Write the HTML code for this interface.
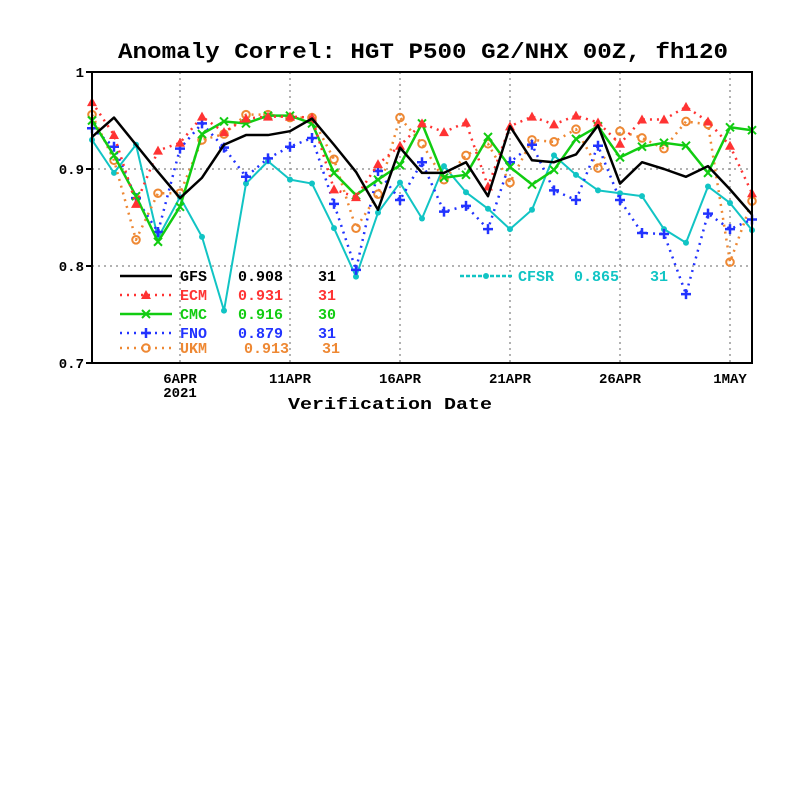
<!DOCTYPE html>
<html><head><meta charset="utf-8"><style>
body{margin:0;background:#fff;}
svg text{font-family:"Liberation Mono",monospace;font-weight:bold;}
</style></head><body>
<svg id="chart" width="800" height="800" viewBox="0 0 800 800" xmlns="http://www.w3.org/2000/svg">
<rect width="800" height="800" fill="#fff"/>
<text x="118" y="58" font-size="22" textLength="610" lengthAdjust="spacingAndGlyphs">Anomaly Correl: HGT P500 G2/NHX 00Z, fh120</text>
<g id="grid"></g>
<g id="series"></g>
<rect x="92" y="72" width="660" height="291" fill="none" stroke="#000" stroke-width="2"/>
<g id="axes"></g>
<g id="legend"></g>
<text x="288" y="409" font-size="17" textLength="204" lengthAdjust="spacingAndGlyphs">Verification Date</text>
</svg>
<script>
const yTicks=[0.7,0.8,0.9,1.0];
const yTickLabels=["0.7","0.8","0.9","1"];
const xTickDays=[4,9,14,19,24,29];
const xTickLabels=["6APR","11APR","16APR","21APR","26APR","1MAY"];
const gfs=[0.933,0.953,0.925,0.897,0.870,0.891,0.925,0.935,0.935,0.939,0.952,0.925,0.897,0.858,0.922,0.896,0.896,0.907,0.872,0.944,0.909,0.907,0.915,0.945,0.885,0.907,0.900,0.892,0.903,0.879,0.853];
const ecm=[0.969,0.935,0.864,0.919,0.927,0.954,0.938,0.952,0.954,0.954,0.953,0.879,0.871,0.905,0.924,0.947,0.938,0.948,0.882,0.944,0.954,0.946,0.955,0.948,0.926,0.951,0.951,0.964,0.949,0.924,0.875];
const cmc=[0.950,0.914,0.872,0.825,0.861,0.936,0.949,0.947,0.955,0.955,0.947,0.896,0.873,0.889,0.904,0.947,0.891,0.894,0.933,0.902,0.884,0.899,0.931,0.944,0.912,0.923,0.927,0.924,0.896,0.943,0.940];
const fno=[0.942,0.923,0.870,0.835,0.921,0.947,0.922,0.892,0.911,0.923,0.932,0.864,0.796,0.898,0.868,0.907,0.856,0.862,0.838,0.907,0.925,0.878,0.868,0.924,0.868,0.834,0.833,0.771,0.854,0.838,0.848];
const ukm=[0.956,0.909,0.827,0.875,0.875,0.930,0.936,0.956,0.956,0.953,0.953,0.910,0.839,0.874,0.953,0.926,0.889,0.914,0.926,0.886,0.930,0.928,0.941,0.901,0.939,0.932,0.921,0.949,0.946,0.804,0.867];
const cfsr=[0.930,0.896,0.925,0.829,0.871,0.830,0.754,0.885,0.908,0.889,0.885,0.839,0.789,0.855,0.886,0.849,0.903,0.876,0.859,0.838,0.858,0.914,0.894,0.878,0.875,0.872,0.838,0.824,0.882,0.865,0.837];
const legendNames=["GFS","ECM","CMC","FNO","UKM","CFSR"];
const legendScores=["0.908","0.931","0.916","0.879","0.913","0.865"];
const legendCounts=["31","31","30","31","31","31"];

const NS="http://www.w3.org/2000/svg";
const X0=92,X1=752,Y0=363,Y1=72;
function xs(i){return X0+(X1-X0)*i/30;}
function ys(v){return Y0-(v-0.7)/0.3*(Y0-Y1);}
function mk(tag,attrs,parent){const e=document.createElementNS(NS,tag);for(const k in attrs)e.setAttribute(k,attrs[k]);parent.appendChild(e);return e;}
const grid=document.getElementById('grid'),axes=document.getElementById('axes'),ser=document.getElementById('series'),leg=document.getElementById('legend');
yTicks.forEach((t,i)=>{
  if(t>0.7&&t<1){const l=mk('line',{x1:X0,x2:X1,y1:ys(t),y2:ys(t),stroke:'#999','stroke-dasharray':'2,4','stroke-width':1.5},grid);
  
  }
  const tk=mk('line',{x1:X0-6,x2:X0,y1:ys(t),y2:ys(t),stroke:'#000','stroke-width':2},axes);
  
  
  const tx=mk('text',{x:X0-8,y:ys(t)+5,'font-size':14,'text-anchor':'end'},axes);
  tx.textContent=yTickLabels[i];
  
  
});
xTickDays.forEach((d,i)=>{
  const x=xs(d);
  const l=mk('line',{x1:x,x2:x,y1:Y1,y2:Y0,stroke:'#999','stroke-dasharray':'2,4','stroke-width':1.5},grid);
  
  
  const tx=mk('text',{x:x,y:383,'font-size':14,'text-anchor':'middle'},axes);
  tx.textContent=xTickLabels[i];
  
  
});
const yr=mk('text',{x:xs(4),y:397,'font-size':14,'text-anchor':'middle'},axes);
yr.textContent="2021";



function marker(type,x,y,c,g){
  let e;
  if(type==='tri')e=mk('polygon',{points:`${x},${y-5} ${x-5},${y+4} ${x+5},${y+4}`,fill:c},g);
  else if(type==='x')e=mk('path',{d:`M${x-4},${y-4}L${x+4},${y+4}M${x-4},${y+4}L${x+4},${y-4}`,stroke:c,'stroke-width':2},g);
  else if(type==='plus')e=mk('path',{d:`M${x-5},${y}L${x+5},${y}M${x},${y-5}L${x},${y+5}`,stroke:c,'stroke-width':2.5},g);
  else if(type==='circ')e=mk('circle',{cx:x,cy:y,r:3.8,fill:'none',stroke:c,'stroke-width':2},g);
  else if(type==='dot')e=mk('circle',{cx:x,cy:y,r:3,fill:c},g);
  if(e){
  }
}
const defs=[
 {d:gfs,c:'#000',dash:'',w:2.5,m:null},
 {d:ecm,c:'#ff3333',dash:'2,5',w:2.5,m:'tri'},
 {d:cmc,c:'#11cc11',dash:'',w:2.5,m:'x'},
 {d:fno,c:'#2233ff',dash:'2,5',w:2.5,m:'plus'},
 {d:ukm,c:'#ee8833',dash:'2,5',w:2.5,m:'circ'},
 {d:cfsr,c:'#11c4c4',dash:'',w:2,m:'dot'}
];
const order=[5,4,3,2,1,0];
order.forEach(k=>{
  const s=defs[k];
  const g=mk('g',{},ser);
  
  
  const pts=s.d.map((v,i)=>xs(i)+','+ys(v)).join(' ');
  const pl=mk('polyline',{points:pts,fill:'none',stroke:s.c,'stroke-width':s.w,'stroke-dasharray':s.dash,'stroke-linejoin':'round'},g);
  
  
  s.d.forEach((v,i)=>marker(s.m,xs(i),ys(v),s.c,g));
});
const legPos=[[120,276],[120,295],[120,314],[120,333],[120,348],[460,276]];
defs.forEach((s,k)=>{
  const [lx,ly]=legPos[k];
  const g=mk('g',{},leg);
  
  
  const l=mk('line',{x1:lx,x2:lx+52,y1:ly,y2:ly,stroke:s.c,'stroke-width':2.5,'stroke-dasharray':k===5?'4,2':s.dash},g);
  
  
  marker(s.m,lx+26,ly,s.c,g);
  const off=k===5?58:60;
  const t1=mk('text',{x:lx+off,y:ly+5,'font-size':15,fill:s.c},g);t1.textContent=legendNames[k];
  
  
  const t2=mk('text',{x:lx+(k===4?124:118)+(k===5?-4:0),y:ly+5,'font-size':15,fill:s.c},g);t2.textContent=legendScores[k];
  
  
  const t3=mk('text',{x:lx+(k===4?202:198)+(k===5?-8:0),y:ly+5,'font-size':15,fill:s.c},g);t3.textContent=legendCounts[k];
  
  
});
</script>
</body></html>
